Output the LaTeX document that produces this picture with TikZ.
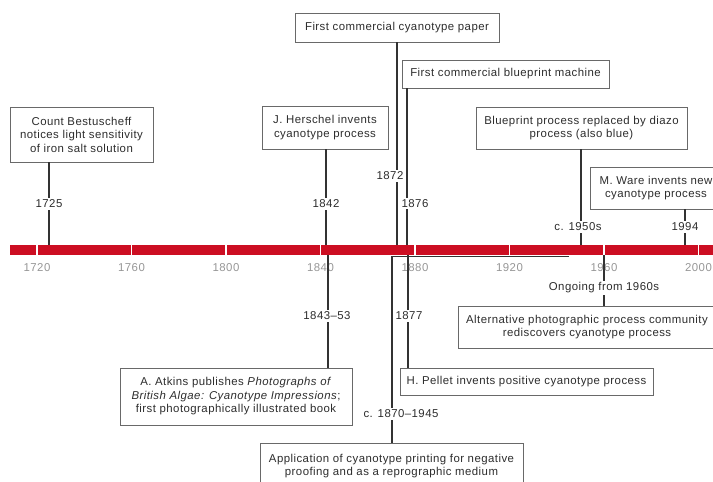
\documentclass[tikz,border=0pt]{standalone}
\usepackage{fontspec}
\setmainfont{Liberation Sans}[LetterSpace=4]
\definecolor{barred}{RGB}{204,14,34}
\definecolor{txt}{RGB}{45,45,45}
\definecolor{boxline}{RGB}{105,105,105}
\definecolor{connc}{RGB}{50,50,50}
\definecolor{yeargray}{RGB}{150,150,150}
\newcommand\tlfs{\fontsize{11.4}{13.5}\selectfont}
\tikzset{
  evbox/.style={draw=boxline, line width=0.9pt, fill=white, align=center, inner sep=0pt, text=txt, font=\tlfs},
  datelab/.style={fill=white, inner sep=1.5pt, text=txt, font=\tlfs},
  yearlab/.style={text=yeargray, font=\tlfs, inner sep=0pt},
  connline/.style={draw=connc, line width=1.1pt},
  sepline/.style={draw=white, line width=1.1pt},
}
\begin{document}
\begin{tikzpicture}[x=1pt,y=-1pt]
\useasboundingbox (0,0) rectangle (713,482);
\clip (0,0) rectangle (713,482);
% bar
\fill[barred] (10,244.5) rectangle (720,255);
\foreach \xx in {37,131.5,226,320.5,415,509.5,604,698.5} {
  \draw[sepline] (\xx,244.5) -- (\xx,255);
}
% year labels
\foreach \xx/\yy in {37/1720,131.5/1760,226/1800,320.5/1840,415/1880,509.5/1920,604/1960,698.5/2000} {
  \node[yearlab] (y\yy) at (\xx,267.5) {\yy};
}
% coordinates on the bar
\coordinate (b1725) at (49,244.5);
\coordinate (b1842) at (326,244.5);
\coordinate (b1872) at (397,244.5);
\coordinate (b1876) at (407,244.5);
\coordinate (b1950) at (581,244.5);
\coordinate (b1994) at (685,244.5);
\coordinate (b1843) at (328,255);
\coordinate (b1877) at (408,255);
\coordinate (b1960) at (604,255);
\coordinate (p1870) at (392,256.5);
\coordinate (p1945) at (569,256.5);

% upper boxes
\node[evbox, minimum width=143pt, minimum height=55pt] (best) at (81.5,134.5) {Count Bestuscheff\\notices light sensitivity\\of iron salt solution};
\node[evbox, minimum width=126pt, minimum height=43pt] (hers) at (325,127.5) {J. Herschel invents\\cyanotype process};
\node[evbox, minimum width=204pt, minimum height=29pt] (paper) at (397,27.5) {First commercial cyanotype paper};
\node[evbox, minimum width=207pt, minimum height=28pt] (mach) at (505.5,74) {First commercial blueprint machine};
\node[evbox, minimum width=211pt, minimum height=42pt] (diazo) at (581.5,128) {Blueprint process replaced by diazo\\process (also blue)};
\node[evbox, minimum width=132pt, minimum height=42pt] (ware) at (656,188) {M. Ware invents new\\cyanotype process};

% lower boxes
\node[evbox, minimum width=232pt, minimum height=57pt] (atk) at (236,396.5) {A. Atkins publishes \textit{Photographs of}\\\textit{British Algae: Cyanotype Impressions};\\first photographically illustrated book};
\node[evbox, minimum width=253pt, minimum height=27pt] (pel) at (526.5,381.5) {H. Pellet invents positive cyanotype process};
\node[evbox, minimum width=258pt, minimum height=42pt] (alt) at (587,327) {Alternative photographic process community\\rediscovers cyanotype process};
\node[evbox, minimum width=263pt, minimum height=46pt] (app) at (391.5,466) {Application of cyanotype printing for negative\\proofing and as a reprographic medium};

% connectors
\draw[connline] (b1725 |- best.south) -- (b1725);
\draw[connline] (b1842 |- hers.south) -- (b1842);
\draw[connline] (b1872 |- paper.south) -- (b1872);
\draw[connline] (b1876 |- mach.south) -- (b1876);
\draw[connline] (b1950 |- diazo.south) -- (b1950);
\draw[connline] (b1994 |- ware.south) -- (b1994);
\draw[connline] (b1843) -- (b1843 |- atk.north);
\draw[connline] (b1877) -- (b1877 |- pel.north);
\draw[connline] (b1960) -- (b1960 |- alt.north);
\draw[connline] (p1945) -- (p1870) -- (p1870 |- app.north);

% date labels
\node[datelab] (l1725) at (49,204) {1725};
\node[datelab] (l1842) at (326,204) {1842};
\node[datelab] (l1872) at (390,176) {1872};
\node[datelab] (l1876) at (415,203.5) {1876};
\node[datelab] (l1950) at (578,227) {c. 1950s};
\node[datelab] (l1994) at (685,227) {1994};
\node[datelab] (l1843) at (327,316) {1843–53};
\node[datelab] (l1877) at (409,316) {1877};
\node[datelab] (l1960) at (604,288) {Ongoing from 1960s};
\node[datelab] (l1870) at (401,414) {c. 1870–1945};
\end{tikzpicture}
\end{document}
